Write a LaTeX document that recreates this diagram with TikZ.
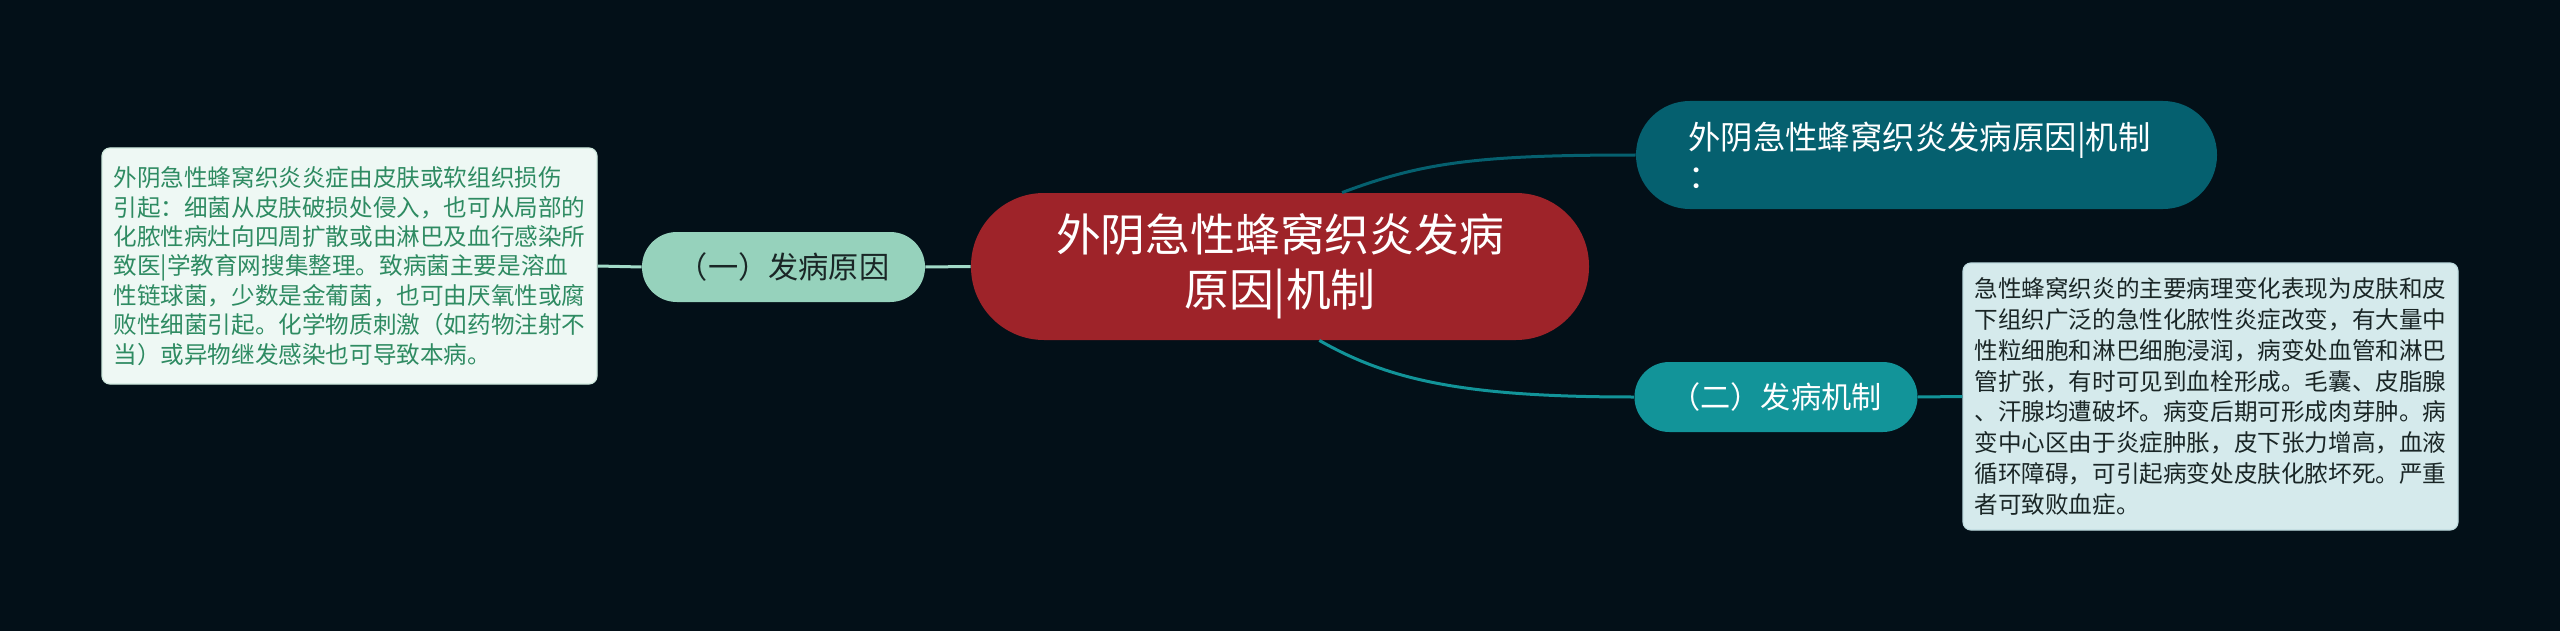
\documentclass[tikz,border=0pt]{standalone}
\usepackage{fontspec}
\setmainfont{Noto Sans CJK SC}
\definecolor{bg}{HTML}{031018}
\definecolor{rootred}{HTML}{9E2329}
\definecolor{topteal}{HTML}{05606F}
\definecolor{midteal}{HTML}{129499}
\definecolor{mint}{HTML}{96D2BC}
\definecolor{mintline}{HTML}{A2DBC8}
\definecolor{leftfill}{HTML}{EEF8F4}
\definecolor{leftdraw}{HTML}{CFE9DE}
\definecolor{lefttext}{HTML}{2E8B62}
\definecolor{rightfill}{HTML}{D5EAEC}
\definecolor{rightdraw}{HTML}{BFDCE0}
\definecolor{darktext}{HTML}{1A2626}
\begin{document}
\begin{tikzpicture}[x=0.5pt,y=-0.5pt,
  pill/.style={inner sep=0pt, minimum width=141.5pt, minimum height=35pt, rounded corners=17.4pt, align=center, font=\fontsize{15.1pt}{18pt}\selectfont},
  notebox/.style={inner sep=0pt, rounded corners=4pt, line width=0.6pt, align=left},
  link/.style={line width=1.5pt}
]
\fill[bg] (0,0) rectangle (2560,631);
\useasboundingbox (0,0) rectangle (2560,631);

\node[fill=rootred, text=white, inner sep=0pt, minimum width=309pt, minimum height=73.5pt, rounded corners=36.5pt, align=center, font=\fontsize{22.4pt}{27.5pt}\selectfont] (root) at (1280,266.5) {外阴急性蜂窝织炎发病\\原因|机制};

\node[fill=topteal, text=white, inner sep=0pt, minimum width=290.5pt, minimum height=54pt, rounded corners=26.9pt, align=left, font=\fontsize{16.2pt}{19.5pt}\selectfont] (top) at (1926.5,155) {\hspace*{-7pt}外阴急性蜂窝织炎发病原因|机制\\\hspace*{-7pt}：};

\node[pill, fill=mint, text=darktext] (cause) at (783.5,267) {（一）发病原因};
\node[pill, fill=midteal, text=white] (mech) at (1776,397) {（二）发病机制};

\node[notebox, fill=leftfill, draw=leftdraw, text=lefttext, minimum width=247.5pt, minimum height=118pt, font=\fontsize{11.8pt}{14.7pt}\selectfont] (ctext) at (349.5,266) {外阴急性蜂窝织炎炎症由皮肤或软组织损伤\\引起：细菌从皮肤破损处侵入，也可从局部的\\化脓性病灶向四周扩散或由淋巴及血行感染所\\致医|学教育网搜集整理。致病菌主要是溶血\\性链球菌，少数是金葡菌，也可由厌氧性或腐\\败性细菌引起。化学物质刺激（如药物注射不\\当）或异物继发感染也可导致本病。};

\node[notebox, fill=rightfill, draw=rightdraw, text=darktext, minimum width=247.5pt, minimum height=133.5pt, font=\fontsize{11.8pt}{15.45pt}\selectfont] (mtext) at (2210.5,396.5) {急性蜂窝织炎的主要病理变化表现为皮肤和皮\\下组织广泛的急性化脓性炎症改变，有大量中\\性粒细胞和淋巴细胞浸润，病变处血管和淋巴\\管扩张，有时可见到血栓形成。毛囊、皮脂腺\\、汗腺均遭破坏。病变后期可形成肉芽肿。病\\变中心区由于炎症肿胀，皮下张力增高，血液\\循环障碍，可引起病变处皮肤化脓坏死。严重\\者可致败血症。};

\draw[link, mintline] (root.west) -- (cause.east);
\draw[link, mintline] (cause.west) -- (ctext.east);
\draw[link, topteal] (root.50) .. controls +(80,-30) and +(-160,0) .. (top.west);
\draw[link, midteal] (root.-62) .. controls +(70,40) and +(-170,0) .. (mech.west);
\draw[link, midteal] (mech.east) -- (mtext.west);
\end{tikzpicture}
\end{document}
